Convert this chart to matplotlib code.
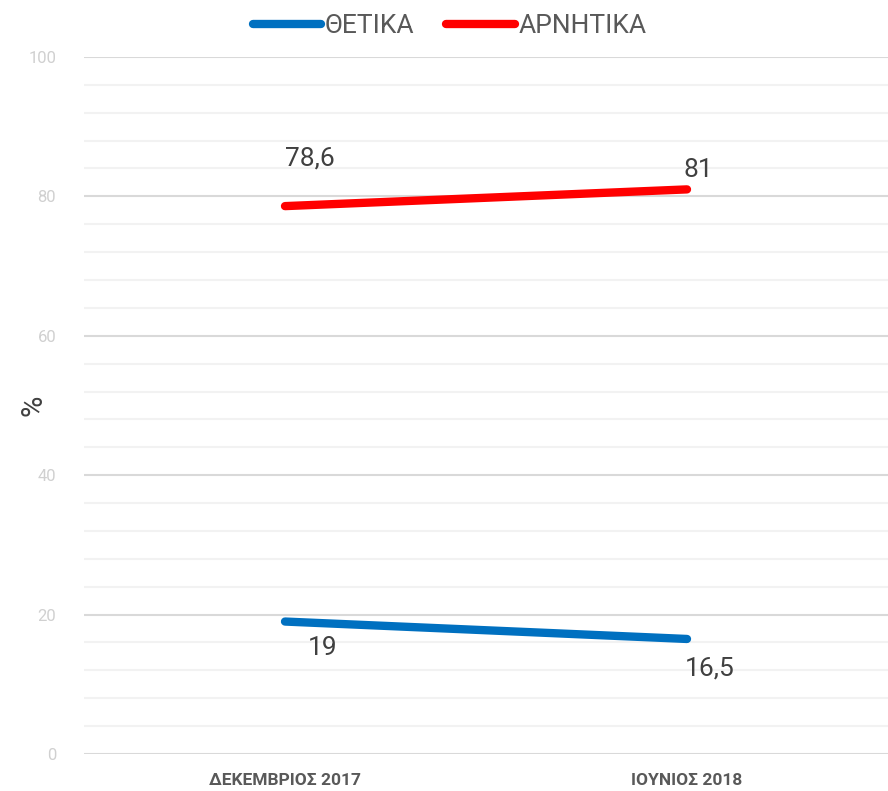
import matplotlib.pyplot as plt
from matplotlib.ticker import MultipleLocator

categories = ['ΔΕΚΕΜΒΡΙΟΣ 2017', 'ΙΟΥΝΙΟΣ 2018']
positive = [19, 16.5]
negative = [78.6, 81]
pos_labels = ['19', '16,5']
neg_labels = ['78,6', '81']

plt.rcParams['font.family'] = ['Roboto', 'DejaVu Sans']

fig = plt.figure(figsize=(8.88, 7.91), dpi=100)
ax = fig.add_axes([0.0946, 0.0468, 0.9054, 0.8812])

x = range(len(categories))
ax.plot(x, positive, color='#0070C0', lw=6, solid_capstyle='round', label='ΘΕΤΙΚΑ', zorder=3)
ax.plot(x, negative, color='#FF0000', lw=6, solid_capstyle='round', label='ΑΡΝΗΤΙΚΑ', zorder=3)

# data labels (offsets in points)
neg_off = [(18, 34), (8, 14)]
pos_off = [(27, -19), (16, -21)]
for i, (v, t) in enumerate(zip(negative, neg_labels)):
    ax.annotate(t, (i, v), xytext=neg_off[i], textcoords='offset points',
                ha='center', va='center', fontsize=19, color='#404040')
for i, (v, t) in enumerate(zip(positive, pos_labels)):
    ax.annotate(t, (i, v), xytext=pos_off[i], textcoords='offset points',
                ha='center', va='center', fontsize=19, color='#404040')

ax.set_xlim(-0.5, 1.5)
ax.set_ylim(0, 100)
ax.set_xticks(list(x))
ax.set_xticklabels(categories, fontsize=12.5, fontweight='bold', color='#595959')
ax.yaxis.set_major_locator(MultipleLocator(20))
ax.yaxis.set_minor_locator(MultipleLocator(4))
ax.tick_params(axis='y', which='both', length=0, labelsize=12, labelcolor='#D0D0D0', pad=20)
ax.tick_params(axis='x', length=0, pad=14)
ax.grid(axis='y', which='major', color='#D9D9D9', lw=1.5)
ax.grid(axis='y', which='minor', color='#F2F2F2', lw=1.5)
ax.set_axisbelow(True)
for s in ax.spines.values():
    s.set_visible(False)
ax.set_ylabel('%', fontsize=21, color='#404040')
ax.yaxis.set_label_coords(-0.045, 0.5)

ax.legend(loc='lower center', bbox_to_anchor=(0.455, 1.0), ncol=2, frameon=False,
          fontsize=19, handlelength=2.6, handletextpad=0.15, columnspacing=1.2,
          labelcolor='#595959', borderaxespad=0.3)

fig.savefig('out.png', dpi=100)
